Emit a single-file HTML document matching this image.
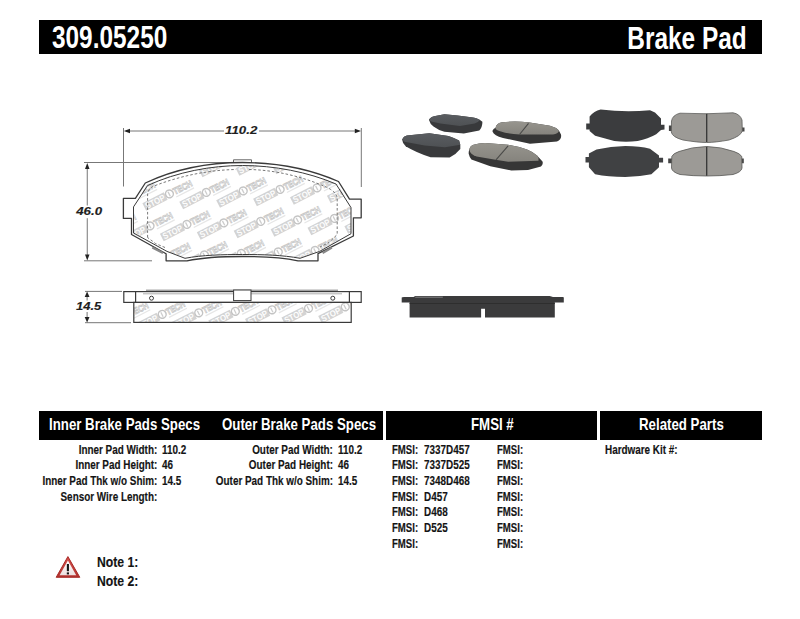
<!DOCTYPE html>
<html><head><meta charset="utf-8">
<style>
html,body{margin:0;padding:0;background:#fff;}
body{width:800px;height:619px;position:relative;overflow:hidden;font-family:"Liberation Sans",sans-serif;font-weight:bold;}
.bar{position:absolute;background:#000;}
.t{position:absolute;white-space:nowrap;line-height:1;transform-origin:0 0;}
.r{transform-origin:100% 0;text-align:right;}
.hd{color:#fff;font-size:32px;}
.th{color:#fff;font-size:17px;}
.s{color:#141414;font-size:12px;transform:scaleX(0.825);-webkit-text-stroke:0.15px #141414;}
.nt{font-size:15px;transform:scaleX(0.813);}
svg{position:absolute;left:0;top:0;}
</style></head><body>
<div class="bar" style="left:39px;top:20.1px;width:723px;height:34.4px"></div>
<div class="t hd" style="left:51.6px;top:20.61px;transform:scaleX(0.762)">309.05250</div>
<div class="t hd r" style="right:53px;top:22.8px;font-size:31px;transform:scaleX(0.787)">Brake Pad</div>
<div class="bar" style="left:39px;top:410.5px;width:344px;height:29.5px"></div>
<div class="bar" style="left:386px;top:410.5px;width:211px;height:29.5px"></div>
<div class="bar" style="left:599.5px;top:410.5px;width:162.5px;height:29.5px"></div>
<div class="t th" style="left:49px;top:416.2px;transform:scaleX(0.78)">Inner Brake Pads Specs</div>
<div class="t th" style="left:222px;top:416.2px;transform:scaleX(0.78)">Outer Brake Pads Specs</div>
<div class="t th" style="left:471px;top:416.2px;transform:scaleX(0.78)">FMSI #</div>
<div class="t th" style="left:639px;top:416.2px;transform:scaleX(0.78)">Related Parts</div>
<div class="t s r" style="right:642.5px;top:443.65px">Inner Pad Width:</div>
<div class="t s r" style="right:642.5px;top:459.35px">Inner Pad Height:</div>
<div class="t s r" style="right:642.5px;top:475.05px">Inner Pad Thk w/o Shim:</div>
<div class="t s r" style="right:642.5px;top:490.75px">Sensor Wire Length:</div>
<div class="t s" style="left:161.5px;top:443.65px">110.2</div>
<div class="t s" style="left:161.5px;top:459.35px">46</div>
<div class="t s" style="left:161.5px;top:475.05px">14.5</div>
<div class="t s r" style="right:467px;top:443.65px">Outer Pad Width:</div>
<div class="t s r" style="right:467px;top:459.35px">Outer Pad Height:</div>
<div class="t s r" style="right:467px;top:475.05px">Outer Pad Thk w/o Shim:</div>
<div class="t s" style="left:338px;top:443.65px">110.2</div>
<div class="t s" style="left:338px;top:459.35px">46</div>
<div class="t s" style="left:338px;top:475.05px">14.5</div>
<div class="t s" style="left:392.3px;transform:scaleX(0.8);top:443.65px">FMSI:</div>
<div class="t s" style="left:423.5px;top:443.65px">7337D457</div>
<div class="t s" style="left:497px;transform:scaleX(0.8);top:443.65px">FMSI:</div>
<div class="t s" style="left:392.3px;transform:scaleX(0.8);top:459.35px">FMSI:</div>
<div class="t s" style="left:423.5px;top:459.35px">7337D525</div>
<div class="t s" style="left:497px;transform:scaleX(0.8);top:459.35px">FMSI:</div>
<div class="t s" style="left:392.3px;transform:scaleX(0.8);top:475.05px">FMSI:</div>
<div class="t s" style="left:423.5px;top:475.05px">7348D468</div>
<div class="t s" style="left:497px;transform:scaleX(0.8);top:475.05px">FMSI:</div>
<div class="t s" style="left:392.3px;transform:scaleX(0.8);top:490.75px">FMSI:</div>
<div class="t s" style="left:423.5px;top:490.75px">D457</div>
<div class="t s" style="left:497px;transform:scaleX(0.8);top:490.75px">FMSI:</div>
<div class="t s" style="left:392.3px;transform:scaleX(0.8);top:506.45px">FMSI:</div>
<div class="t s" style="left:423.5px;top:506.45px">D468</div>
<div class="t s" style="left:497px;transform:scaleX(0.8);top:506.45px">FMSI:</div>
<div class="t s" style="left:392.3px;transform:scaleX(0.8);top:522.15px">FMSI:</div>
<div class="t s" style="left:423.5px;top:522.15px">D525</div>
<div class="t s" style="left:497px;transform:scaleX(0.8);top:522.15px">FMSI:</div>
<div class="t s" style="left:392.3px;transform:scaleX(0.8);top:537.85px">FMSI:</div>
<div class="t s" style="left:497px;transform:scaleX(0.8);top:537.85px">FMSI:</div>
<div class="t s" style="left:604.5px;top:443.65px">Hardware Kit #:</div>
<div class="t s nt" style="left:96.6px;top:553.9px">Note 1:</div>
<div class="t s nt" style="left:96.6px;top:573.0px">Note 2:</div>

<!--DRAWING-->
<svg width="800" height="619" viewBox="0 0 800 619">
<defs>
<g id="logo">
  <path d="M-12,-4.2 L12,-4.2 L12,4.2 L-12,4.2 Z" fill="#d3d3d3"/>
  <text x="0" y="3.2" text-anchor="middle" font-family="Liberation Sans" font-weight="bold" font-size="8.8" fill="#fdfdfd" textLength="21" lengthAdjust="spacingAndGlyphs">STOP</text>
  <circle cx="16.3" cy="-0.2" r="3.9" fill="#fff" stroke="#c4c4c4" stroke-width="1.5"/>
  <path d="M16,-2.7 L16,2.3" stroke="#cdcdcd" stroke-width="1.3"/>
  <text x="31" y="3.1" text-anchor="middle" font-family="Liberation Sans" font-size="9.2" fill="#fff" stroke="#c6c6c6" stroke-width="0.8" textLength="20" lengthAdjust="spacingAndGlyphs">TECH</text>
  <path d="M21,5.6 L41,5.6" stroke="#e6e6e6" stroke-width="1.2"/>
</g>
<clipPath id="fric">
  <path d="M147,184.5 C177,171.5 211,165.5 242.5,165.5 C274,165.5 308,171.5 338,184.5 L351,207 L351,234 L316,252.5 L299,258 C281,255 261,254.5 242.5,254.5 C224,254.5 204,255 186,258 L169,252.5 L133.5,234 L133.5,207 Z"/>
</clipPath>
<clipPath id="sidefric">
  <rect x="134" y="302.5" width="217" height="20"/>
</clipPath>
</defs>

<!-- watermark -->
<g clip-path="url(#fric)">
<use href="#logo" transform="translate(120.0,140.5) rotate(-27)"/>
<use href="#logo" transform="translate(100.6,172.5) rotate(-27)"/>
<use href="#logo" transform="translate(137.5,171.0) rotate(-27)"/>
<use href="#logo" transform="translate(174.4,169.5) rotate(-27)"/>
<use href="#logo" transform="translate(211.3,168.0) rotate(-27)"/>
<use href="#logo" transform="translate(248.2,166.5) rotate(-27)"/>
<use href="#logo" transform="translate(285.1,165.0) rotate(-27)"/>
<use href="#logo" transform="translate(322.0,163.5) rotate(-27)"/>
<use href="#logo" transform="translate(358.9,162.0) rotate(-27)"/>
<use href="#logo" transform="translate(118.1,203.0) rotate(-27)"/>
<use href="#logo" transform="translate(155.0,201.5) rotate(-27)"/>
<use href="#logo" transform="translate(191.9,200.0) rotate(-27)"/>
<use href="#logo" transform="translate(228.8,198.5) rotate(-27)"/>
<use href="#logo" transform="translate(265.7,197.0) rotate(-27)"/>
<use href="#logo" transform="translate(302.6,195.5) rotate(-27)"/>
<use href="#logo" transform="translate(339.5,194.0) rotate(-27)"/>
<use href="#logo" transform="translate(376.4,192.5) rotate(-27)"/>
<use href="#logo" transform="translate(98.7,235.0) rotate(-27)"/>
<use href="#logo" transform="translate(135.6,233.5) rotate(-27)"/>
<use href="#logo" transform="translate(172.5,232.0) rotate(-27)"/>
<use href="#logo" transform="translate(209.4,230.5) rotate(-27)"/>
<use href="#logo" transform="translate(246.3,229.0) rotate(-27)"/>
<use href="#logo" transform="translate(283.2,227.5) rotate(-27)"/>
<use href="#logo" transform="translate(320.1,226.0) rotate(-27)"/>
<use href="#logo" transform="translate(357.0,224.5) rotate(-27)"/>
<use href="#logo" transform="translate(116.2,265.5) rotate(-27)"/>
<use href="#logo" transform="translate(153.1,264.0) rotate(-27)"/>
<use href="#logo" transform="translate(190.0,262.5) rotate(-27)"/>
<use href="#logo" transform="translate(226.9,261.0) rotate(-27)"/>
<use href="#logo" transform="translate(263.8,259.5) rotate(-27)"/>
<use href="#logo" transform="translate(300.7,258.0) rotate(-27)"/>
<use href="#logo" transform="translate(337.6,256.5) rotate(-27)"/>
<use href="#logo" transform="translate(374.5,255.0) rotate(-27)"/>
</g>

<!-- dimension lines -->
<g stroke="#777" stroke-width="1" fill="none">
  <path d="M123.5,128 L123.5,186.5"/>
  <path d="M361.3,128 L361.3,187"/>
  <path d="M126,131 L224,131 M259,131 L358.5,131"/>
  <path d="M84,162.5 L233.5,162.5"/>
  <path d="M84,260.8 L152,260.8"/>
  <path d="M87.25,167 L87.25,205.5 M87.25,218.2 L87.25,256"/>
</g>
<g fill="#222">
  <path d="M123.8,131 L130,128.8 L130,133.2 Z"/>
  <path d="M361,131 L354.8,128.8 L354.8,133.2 Z"/>
  <path d="M87.25,163 L85,169 L89.5,169 Z"/>
  <path d="M87.25,260.5 L85,254.5 L89.5,254.5 Z"/>
</g>
<g font-family="Liberation Sans" font-weight="bold" font-style="italic" font-size="11.3" fill="#1e1e1e" stroke="#1e1e1e" stroke-width="0.15" text-anchor="middle">
  <text transform="translate(241.2,133.7) scale(1.18,1)">110.2</text>
  <text transform="translate(89.1,215.1) scale(1.18,1)">46.0</text>
  <text transform="translate(88.6,309.7) scale(1.15,1)">14.5</text>
</g>

<!-- pad outline -->
<g fill="none" stroke="#3a3a3a" stroke-width="1.3" stroke-linejoin="round">
  <path d="M233.5,163 L233.5,159.8 L251.5,159.8 L251.5,163" stroke="#666" stroke-width="1"/>
  <path d="M145.3,183 C175,169 210,162.5 242.5,162.5 C275,162.5 310,169 338.5,181.5 L349.5,199.2 L361.2,199.2 L361.2,217.8 L353.4,217.8 L353.4,236 L318,253.7 L318,260.8 L298,260.8 C281,257.3 261,256.5 242.5,256.5 C224,256.5 204,257.3 187,260.8 L166.1,260.8 L166.1,253.7 L131.5,234.5 L131.5,218.4 L123.4,218.4 L123.4,198.4 L135.4,198.4 Z"/>
  <path d="M147.6,185.5 C177,172 211,165.5 242.5,165.5 C274,165.5 308,172 336,184 L351,207.6 L351,233.7 L319.6,251.4 L300,258.3 C283,255 262,254.5 242.5,254.5 C223,254.5 202,255 185,258.3 L167,251.4 L133.5,233 L133.5,206.9 Z" stroke-width="1"/>
  <path d="M147.6,237.5 L147.6,194 Q148.2,188.5 154,186 C180,176 208,170 236,169.5 M249,169.5 C276,170 303,177 325,186.5 Q336.5,191.5 337.2,198 L337.2,234.5 L329,242.5 L320,247 M165,247.5 L155.5,243.5 L147.6,237.5" stroke="#6a6a6a" stroke-width="0.9" stroke-dasharray="2.6,2"/>
  <path d="M152.3,247.6 L163,253 M322.6,253 L331.9,247.6" stroke="#888" stroke-width="2.2"/>
</g>

<!-- side view -->
<g clip-path="url(#sidefric)">
<use href="#logo" transform="translate(111.2,323.4) rotate(-27)"/>
<use href="#logo" transform="translate(147.8,321.9) rotate(-27)"/>
<use href="#logo" transform="translate(184.3,320.4) rotate(-27)"/>
<use href="#logo" transform="translate(220.9,318.9) rotate(-27)"/>
<use href="#logo" transform="translate(257.6,317.4) rotate(-27)"/>
<use href="#logo" transform="translate(294.1,315.9) rotate(-27)"/>
<use href="#logo" transform="translate(330.8,314.4) rotate(-27)"/>
<use href="#logo" transform="translate(367.4,312.9) rotate(-27)"/>
<use href="#logo" transform="translate(403.9,311.4) rotate(-27)"/>
</g>
<g stroke="#777" stroke-width="1" fill="none">
  <path d="M85,291.4 L122,291.4"/>
  <path d="M85,322.7 L131,322.7"/>
  <path d="M87.1,296 L87.1,300.5 M87.1,312 L87.1,318"/>
</g>
<g fill="#222">
  <path d="M87.1,291.6 L84.7,297 L89.5,297 Z"/>
  <path d="M87.1,322.5 L84.7,317 L89.5,317 Z"/>
</g>
<g fill="none" stroke="#3a3a3a" stroke-width="1.2">
  <rect x="123.8" y="291.6" width="237.4" height="10.8"/>
  <path d="M135.6,291.6 L135.6,302.4 M349.4,291.6 L349.4,302.4"/>
  <rect x="133.8" y="302.4" width="217.4" height="20"/>
  <path d="M146,290.2 L338,290.2" stroke="#777" stroke-width="1"/>
  <path d="M143,293.8 L342,293.8" stroke="#999" stroke-width="0.8"/>
  <rect x="233.6" y="290" width="17.4" height="10.6" stroke-width="1" fill="#fff"/>
  <circle cx="151.5" cy="298.2" r="2" stroke-width="1"/>
  <circle cx="332.8" cy="298.2" r="2" stroke-width="1"/>
</g>

<defs>
  <linearGradient id="gA" x1="0" y1="0" x2="0" y2="1"><stop offset="0" stop-color="#5a5d61"/><stop offset="1" stop-color="#4e5154"/></linearGradient>
  <linearGradient id="gC" x1="0" y1="0" x2="0" y2="1"><stop offset="0" stop-color="#97958e"/><stop offset="1" stop-color="#85837d"/></linearGradient>
</defs>
<!-- pad A -->
<path d="M428.9,119.7 Q431,116.5 436.6,115.8 L444.4,114.3 L457.6,115.4 L473,117.4 Q478.5,118.5 480,120 L482.4,121.8 Q482.5,127 479.3,130.6 L463.8,133.4 L444.4,131.8 Q438,130 433.5,126.5 Q430,124 428.9,119.7 Z" fill="#38393b"/>
<path d="M428.9,119.7 Q431,116.5 436.6,115.8 L444.4,114.3 L457.6,115.4 L473,117.4 Q478.5,118.5 480,120 Q478,122.5 474.6,123.6 L459.9,125.9 L440.5,123.6 L431.2,121.6 Z" fill="url(#gA)"/>
<!-- pad B -->
<path d="M402.1,139.4 Q403.5,136.3 406.9,135.6 L429.4,133.3 L448.4,135.9 Q455,138 459.1,140.6 L460.3,144.8 L460.3,149 Q456,154.5 449.6,157.5 L430.6,157.3 Q415,152 405.7,146.2 Q402.5,143.5 402.1,139.4 Z" fill="#38393b"/>
<path d="M402.1,139.4 Q403.5,136.3 406.9,135.6 L429.4,133.3 L448.4,135.9 Q455,138 459.1,140.6 L460.3,144.8 L444.9,147.2 L424.7,145.4 L404.5,141.8 Z" fill="url(#gA)"/>
<!-- pad C -->
<path d="M495.5,128 Q496,123.5 502,122.3 Q515,120.8 528,122.3 L550,125.8 Q557.5,128 559,130.8 L561,134.5 Q562,139 557,141.5 L530,143.7 L503,138 Q494,135.5 492.5,131.5 Q492.5,129 495.5,128 Z" fill="#363636"/>
<path d="M495.5,128 Q496,123.5 502,122.3 Q515,120.8 528,122.3 L550,125.8 Q557.5,128 559,130.8 Q558,134 553,134.5 L520,134.5 Q508,134 501,131.5 Q495.5,130 495.5,128 Z" fill="url(#gC)"/>
<path d="M528.5,123.3 L519.5,134.5" stroke="#4a4a48" stroke-width="1.1"/>
<!-- pad D -->
<path d="M469.3,149.6 Q470,146 473.5,144.8 Q479,143 485,143 L508.1,144.8 Q519,146.5 527,149.6 Q533,152 537,155.5 L542.5,161.5 Q543.5,164 541,166.5 L528,170 L511.3,170.5 L490.3,166.3 L471.4,159.5 Q469.5,157.5 468.7,153.8 Q468.5,152 469.3,149.6 Z" fill="#363636"/>
<path d="M469.3,149.6 Q470,146 473.5,144.8 Q479,143 485,143 L508.1,144.8 Q519,146.5 527,149.6 Q533,152 537,155.5 Q538.5,157 538.5,158.5 L538.5,160.8 L508.1,161.8 L495.5,159.8 L476.6,156.6 Q470,154.5 469.3,149.6 Z" fill="url(#gC)"/>
<path d="M508.1,145.9 L496,159.8" stroke="#4a4a48" stroke-width="1.1"/>
<!-- pad E -->
<path d="M600.6,109.6 Q625,112.5 650,110.3 L655,112.5 L661,118.5 L661,124.7 L664.5,124.7 L664.5,129.5 L661,130 L656.2,134.3 Q648,139 637.7,141 Q626,142.3 614.3,141 L595.1,135.7 L589.6,130.9 L589.6,129.5 L586.2,129.5 L586.2,123.4 L589.6,123.4 L589.6,116.5 Q594,111 600.6,109.6 Z" fill="#3b3c3e"/>
<!-- pad G -->
<path d="M596.5,149.5 Q611,146 625.3,146 Q640,146 650,148.8 L659,155.6 L659,157.7 L663.1,157.7 L663.1,162.5 L659,162.5 L659,167.3 L651.4,174.2 Q638,176.9 625.3,176.9 Q608,176.9 595.1,174.2 L588.9,167.3 L588.9,162.5 L585.5,162.5 L585.5,157 L588.9,157 L588.9,153.6 Z" fill="#404143"/>
<!-- pad F -->
<path d="M668.9,125.4 L673,125.4 L673,130.9 L668.9,130.9 Z M740,127.5 L744.5,127.5 L744.5,131.6 L740,131.6 Z" fill="#444"/>
<path d="M671.5,121 Q672.5,115 680,113.2 Q706.7,114.5 733,112.8 Q740,114 742,120 L742.3,131 Q741,136 729,140 Q715,142.5 706.7,142.5 Q698,142.5 683,140 Q672,137 671.3,132 Z" fill="#9c9a96" stroke="#5a5a58" stroke-width="0.8"/>
<path d="M706.7,113.8 L706.7,142" stroke="#363636" stroke-width="1.3"/>
<!-- pad H -->
<path d="M668.2,158.4 L673,158.4 L673,163.2 L668.2,163.2 Z M740,158.4 L743.8,158.4 L743.8,163.2 L740,163.2 Z" fill="#444"/>
<path d="M671.8,156.5 Q673,153.5 679,151.5 Q692,146.8 706.7,146.5 Q721,146.8 734,151.5 Q740,153.5 741.8,156.5 L742,168 Q741.5,172 733,174.5 Q720,176 706.7,176 Q693,176 680,174.5 Q672,172 671.5,168 Z" fill="#9c9a96" stroke="#585856" stroke-width="0.8"/>
<path d="M706.7,146.8 L706.7,175.8" stroke="#363636" stroke-width="1.3"/>
<!-- side photo -->
<path d="M401.7,297.6 Q402,297 404,297 L413.6,297 L415.2,295.9 L549.7,295.9 L553,297 L563.3,297 Q564,297.5 563.8,299 L563.8,302.6 L554.8,302.6 L554.8,317.5 L485,317.5 L485,308.8 L481.1,308.8 L481.1,317.5 L409.6,317.5 L409.6,302.6 L401.7,302.6 Z" fill="#3b3b3c"/>
<path d="M415.2,297.2 L442.8,297.2" stroke="#7a7a7a" stroke-width="1.2"/>
<path d="M409.6,303.5 L554.8,303.5" stroke="#2e2e2e" stroke-width="1"/>
<!-- warning triangle -->
<defs><linearGradient id="gT" x1="0" y1="0" x2="0" y2="1"><stop offset="0" stop-color="#ffffff"/><stop offset="1" stop-color="#ecdede"/></linearGradient>
<linearGradient id="gR" x1="0" y1="0" x2="0" y2="1"><stop offset="0" stop-color="#d9534f"/><stop offset="1" stop-color="#b0302c"/></linearGradient></defs>
<path d="M67.9,556.6 L56.2,577.3 L79.8,577.3 Z" fill="url(#gR)" stroke="#a82c28" stroke-width="1" stroke-linejoin="round"/>
<path d="M67.9,560.5 L59.6,575.3 L76.2,575.3 Z" fill="url(#gT)"/>
<path d="M67.9,564 L67.9,571.2" stroke="#151515" stroke-width="2.1"/>
<rect x="66.8" y="572.4" width="2.2" height="2" fill="#151515"/>

</svg>

<!--/DRAWING-->
</body></html>
